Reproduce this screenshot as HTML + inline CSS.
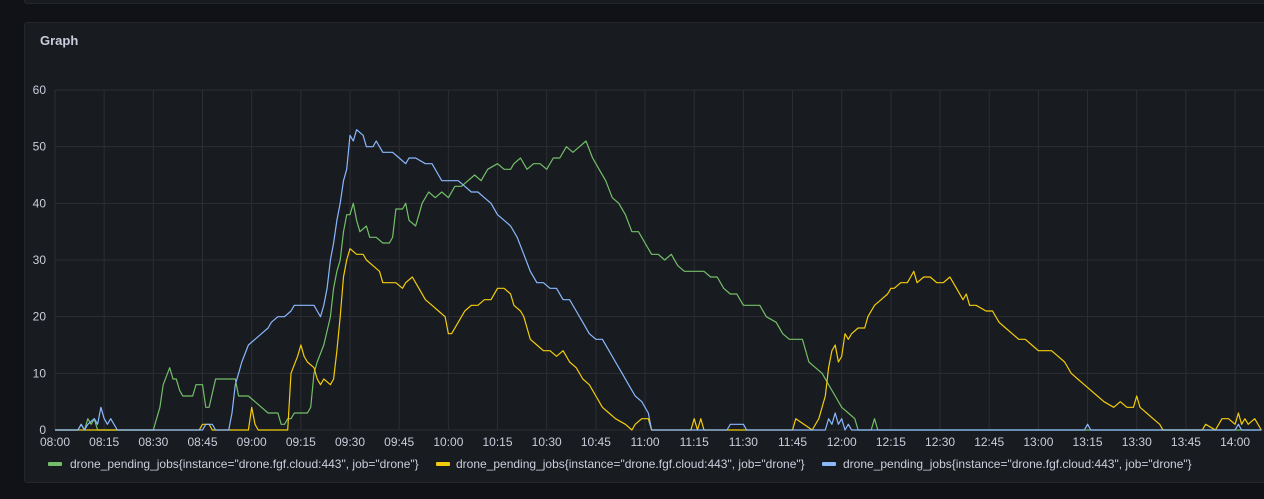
<!DOCTYPE html>
<html><head><meta charset="utf-8">
<style>
html,body{margin:0;padding:0;background:#111217;width:1264px;height:499px;overflow:hidden;font-family:"Liberation Sans",sans-serif}
#top{position:absolute;left:24px;top:-6px;width:1260px;height:8px;background:#181b1f;border:1px solid #24262c;border-radius:3px}
#panel{position:absolute;left:24px;top:22px;width:1260px;height:459px;background:#181b1f;border:1px solid #24262c;border-radius:3px}
#title{position:absolute;left:40px;top:33px;color:#ccccdc;font-size:13px;font-weight:bold}
svg{position:absolute;left:0;top:0}
.leg{position:absolute;top:457px;color:#ccccdc;font-size:12px;white-space:nowrap}
.sw{position:absolute;top:462px;width:14px;height:4px;border-radius:1px}
</style></head><body>
<div id="top"></div>
<div id="panel"></div>
<div id="title">Graph</div>
<svg id="chart" width="1264" height="499"></svg>
<div class="sw" style="left:48px;background:#73bf69"></div>
<div class="leg" style="left:70px">drone_pending_jobs{instance="drone.fgf.cloud:443", job="drone"}</div>
<div class="sw" style="left:436px;background:#f2cc0c"></div>
<div class="leg" style="left:456px">drone_pending_jobs{instance="drone.fgf.cloud:443", job="drone"}</div>
<div class="sw" style="left:822px;background:#8ab8ff"></div>
<div class="leg" style="left:843px">drone_pending_jobs{instance="drone.fgf.cloud:443", job="drone"}</div>
<script>
const yTicks=[0,10,20,30,40,50,60];
const xTicks=["08:00","08:15","08:30","08:45","09:00","09:15","09:30","09:45","10:00","10:15","10:30","10:45","11:00","11:15","11:30","11:45","12:00","12:15","12:30","12:45","13:00","13:15","13:30","13:45","14:00"];
const greenT=["08:00","08:07","08:08","08:09","08:10","08:11","08:12","08:13","08:30","08:32","08:33","08:35","08:36","08:37","08:38","08:39","08:42","08:43","08:44","08:45","08:46","08:47","08:49","08:50","08:55","08:56","08:59","09:01","09:03","09:05","09:08","09:09","09:10","09:11","09:12","09:13","09:17","09:18","09:19","09:20","09:22","09:24","09:25","09:26","09:27","09:28","09:29","09:30","09:31","09:32","09:33","09:35","09:36","09:38","09:40","09:42","09:43","09:44","09:46","09:47","09:48","09:50","09:51","09:52","09:54","09:56","09:58","10:00","10:02","10:04","10:06","10:08","10:10","10:12","10:15","10:17","10:19","10:20","10:22","10:24","10:26","10:28","10:30","10:32","10:34","10:36","10:38","10:40","10:42","10:44","10:45","10:46","10:48","10:50","10:52","10:54","10:56","10:58","11:00","11:02","11:04","11:06","11:08","11:10","11:12","11:15","11:18","11:20","11:22","11:24","11:26","11:28","11:30","11:32","11:35","11:37","11:40","11:42","11:44","11:46","11:48","11:50","11:52","11:54","11:56","11:58","12:00","12:02","12:04","12:05","12:09","12:10","12:11","12:12","14:08"];
const greenV=[0,0,1,0,2,1,2,0,0,4,8,11,9,9,7,6,6,8,8,8,4,4,9,9,9,6,6,5,4,3,3,1,1,2,2,3,3,4,10,12,15,20,25,28,30,35,38,38,40,37,35,36,34,34,33,33,34,39,39,40,37,36,38,40,42,41,42,41,43,43,44,45,44,46,47,46,46,47,48,46,47,47,46,48,48,50,49,50,51,48,47,46,44,41,40,38,35,35,33,31,31,30,31,29,28,28,28,27,27,25,24,24,22,22,22,20,19,17,16,16,16,12,11,10,8,6,4,3,2,0,0,2,0,0,0];
const yellowT=["08:00","08:44","08:45","08:47","08:48","08:59","09:00","09:01","09:02","09:11","09:12","09:14","09:15","09:16","09:17","09:19","09:20","09:21","09:22","09:24","09:25","09:26","09:27","09:28","09:29","09:30","09:32","09:34","09:35","09:37","09:39","09:40","09:42","09:44","09:46","09:47","09:49","09:51","09:53","09:55","09:57","09:59","10:00","10:01","10:03","10:05","10:07","10:09","10:11","10:13","10:15","10:17","10:19","10:20","10:22","10:23","10:25","10:27","10:29","10:31","10:33","10:35","10:37","10:39","10:41","10:43","10:45","10:47","10:49","10:51","10:54","10:56","10:57","10:59","11:01","11:02","11:14","11:15","11:16","11:17","11:18","11:45","11:46","11:51","11:53","11:55","11:56","11:57","11:58","11:59","12:00","12:01","12:02","12:03","12:05","12:07","12:08","12:10","12:12","12:14","12:15","12:16","12:18","12:20","12:21","12:22","12:23","12:25","12:27","12:29","12:31","12:33","12:35","12:37","12:38","12:39","12:41","12:44","12:46","12:48","12:50","12:52","12:54","12:56","12:58","13:00","13:04","13:06","13:08","13:10","13:12","13:14","13:16","13:18","13:20","13:23","13:25","13:27","13:29","13:30","13:31","13:33","13:35","13:37","13:38","13:50","13:51","13:54","13:56","13:58","14:00","14:01","14:02","14:03","14:04","14:06","14:07","14:08"];
const yellowV=[0,0,1,1,0,0,4,1,0,0,10,13,15,13,12,11,9,8,9,8,9,14,20,27,30,32,31,31,30,29,28,26,26,26,25,26,27,25,23,22,21,20,17,17,19,21,22,22,23,23,25,25,24,22,21,20,16,15,14,14,13,14,12,11,9,8,6,4,3,2,1,0,1,2,2,0,0,2,0,2,0,0,2,0,2,6,11,14,15,12,13,17,16,17,18,18,20,22,23,24,25,25,26,26,27,28,26,27,27,26,26,27,25,23,24,22,22,21,21,19,18,17,16,16,15,14,14,13,12,10,9,8,7,6,5,4,5,4,4,6,4,3,2,1,0,0,1,0,2,2,1,3,1,2,1,2,1,0];
const blueT=["08:00","08:07","08:08","08:09","08:10","08:12","08:13","08:14","08:15","08:16","08:17","08:18","08:19","08:45","08:46","08:48","08:49","08:50","08:53","08:54","08:55","08:56","08:57","08:59","09:01","09:03","09:05","09:06","09:08","09:10","09:12","09:13","09:15","09:17","09:19","09:20","09:21","09:22","09:23","09:24","09:25","09:26","09:27","09:28","09:29","09:30","09:31","09:32","09:34","09:35","09:37","09:38","09:40","09:43","09:45","09:47","09:48","09:50","09:53","09:55","09:57","09:58","10:00","10:03","10:05","10:07","10:09","10:11","10:13","10:15","10:17","10:19","10:21","10:23","10:25","10:27","10:29","10:31","10:33","10:35","10:37","10:39","10:41","10:43","10:45","10:47","10:49","10:51","10:53","10:55","10:57","10:59","11:01","11:02","11:25","11:26","11:30","11:31","11:55","11:56","11:57","11:58","11:59","12:00","12:01","12:02","12:03","13:14","13:15","13:16","14:00","14:01","14:02","14:08"];
const blueV=[0,0,1,0,1,2,1,4,2,1,2,1,0,0,1,1,0,0,0,3,8,10,12,15,16,17,18,19,20,20,21,22,22,22,22,21,20,22,25,30,33,37,40,44,46,52,51,53,52,50,50,51,49,49,48,47,48,48,47,47,45,44,44,44,43,42,42,41,40,38,37,36,34,31,28,26,26,25,25,23,23,21,19,17,16,16,14,12,10,8,6,5,3,0,0,1,1,0,0,2,1,3,1,2,0,1,0,0,1,0,0,1,0,0];

const X0=55, PXMIN=49.17/15, Y0=430, PXU=340/60;
function mins(s){const p=s.split(':');return (+p[0]-8)*60+ +p[1];}
function xs(t){return X0+mins(t)*PXMIN;}
function ys(v){return Y0-v*PXU;}
const svg=document.getElementById('chart');
const NS='http://www.w3.org/2000/svg';
function mk(tag,attrs){const e=document.createElementNS(NS,tag);for(const k in attrs)e.setAttribute(k,attrs[k]);svg.appendChild(e);return e;}
yTicks.forEach(v=>{
  const l=mk('line',{x1:X0,x2:1264,y1:ys(v),y2:ys(v),stroke:'#2c2e33','stroke-width':1});
  
  
  const t=mk('text',{x:46,y:ys(v)+4,'text-anchor':'end',fill:'#ccccdc','font-size':12,'font-family':'Liberation Sans, sans-serif'});
  t.textContent=v;
  
  
});
xTicks.forEach(s=>{
  const l=mk('line',{x1:xs(s),x2:xs(s),y1:ys(60),y2:Y0,stroke:'#2c2e33','stroke-width':1});
  
  
  const t=mk('text',{x:xs(s),y:446,'text-anchor':'middle',fill:'#ccccdc','font-size':12,'font-family':'Liberation Sans, sans-serif'});
  t.textContent=s;
  
  
});
function series(T,V,color,name){
  const n=Math.min(T.length,V.length);
  const pts=[];
  for(let i=0;i<n;i++)pts.push(xs(T[i]).toFixed(1)+','+ys(V[i]).toFixed(1));
  const p=mk('polyline',{points:pts.join(' '),fill:'none',stroke:color,'stroke-width':1.2,'stroke-linejoin':'round'});
  
  
}
series(greenT,greenV,'#73bf69','green-series-line');
series(yellowT,yellowV,'#f2cc0c','yellow-series-line');
series(blueT,blueV,'#8ab8ff','blue-series-line');
</script>
</body></html>
